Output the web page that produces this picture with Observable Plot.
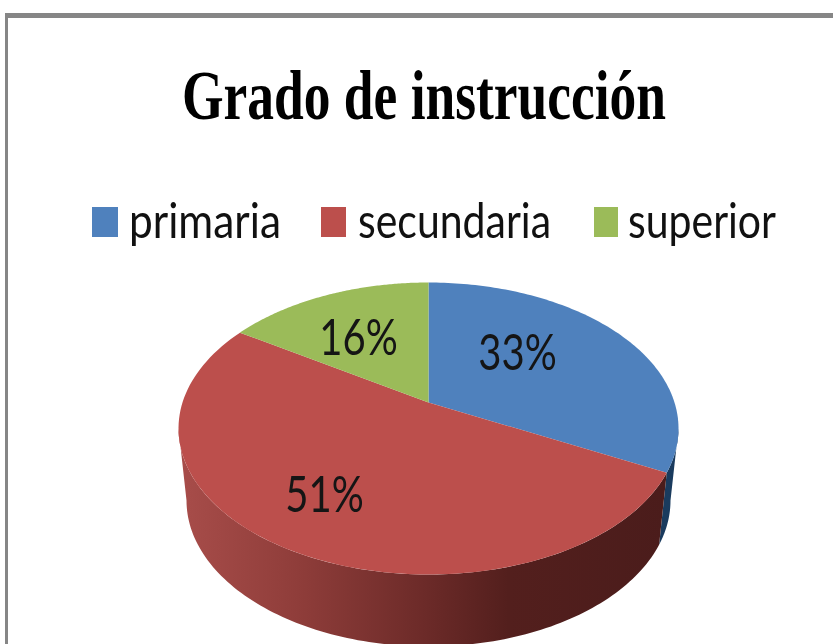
<!DOCTYPE html>
<html>
<head>
<meta charset="utf-8">
<script src="https://cdn.jsdelivr.net/npm/d3@7"></script>
<script src="https://cdn.jsdelivr.net/npm/@observablehq/plot@0.6"></script>
<style>
  html, body { margin: 0; padding: 0; background: #fff; overflow: hidden; width: 833px; height: 644px; }
  #frame { position: absolute; left: 5px; top: 13px; width: 900px; height: 700px; box-sizing: border-box;
           border-top: 5px solid #868686; border-left: 3px solid #868686; }
  #header { position: absolute; left: 0; top: 0; width: 833px; height: 270px; filter: blur(0.6px); }
  .fit { position: absolute; white-space: nowrap; transform-origin: 0 0; line-height: 1; color: #000; }
  #title { font: bold 70px "Liberation Serif", serif; }
  .lab { font: 48px Lato, sans-serif; color: #111; }
  .swatch { position: absolute; top: 207px; height: 30px; }
  #chart { position: absolute; left: 0; top: 270px; filter: blur(0.5px); }
  #chart svg { display: block; }
</style>
</head>
<body>
<div id="frame"></div>
<div id="header"></div>
<div id="chart"></div>
<script>
const chartTitle = "Grado de instrucción";
const categories = ["primaria", "secundaria", "superior"];
const percentages = [33, 51, 16];              // as printed on the slices
const drawnShares = [29.9, 56.5, 13.6];        // visible sweep of each slice in the picture
const colors = ["#4F81BD", "#BC4F4C", "#9BBB59"];
const sideColors = ["#1A3B5E", "url(#sideRed)", "#5f7530"];

// Presentation settings
const labelSpots = [[0.356, 0.507], [-0.416, -0.459], [-0.28, 0.61]];
const lowerRim = {rx: 0.968, cy: -0.493};
const apex = {x: 0, y: 0.178};                 // the perspective moves the meeting point of the slices up

const sum = d3.sum(drawnShares);
const toAngle = s => s / sum * 2 * Math.PI;
let acc = 0;
const slices = categories.map((name, i) => {
  const start = acc; acc += toAngle(drawnShares[i]);
  return {name, start, end: acc, color: colors[i], side: sideColors[i], percent: percentages[i],
          lx: labelSpots[i][0], ly: labelSpots[i][1]};
});

const upper = t => ({x: Math.sin(t), y: Math.cos(t)});
const lower = t => ({x: lowerRim.rx * Math.sin(t), y: lowerRim.cy + Math.cos(t)});
const arc = (a, b, f) => d3.range(0, 121).map(k => f(a + (b - a) * k / 120));

const topPoints = slices.flatMap(s =>
  [apex, ...arc(s.start, s.end, upper), apex].map(p => ({...p, name: s.name, color: s.color})));

// Only the near half of the cylinder wall is visible (angles from 90 to 270 degrees)
const sidePoints = slices.flatMap(s => {
  const a = Math.max(s.start, Math.PI / 2), b = Math.min(s.end, 3 * Math.PI / 2);
  if (a >= b) return [];
  return [...arc(a, b, upper), ...arc(b, a, lower)].map(p => ({...p, name: s.name, color: s.side}));
});

const gradientStops = [[0, "#A84D4A"], [0.24, "#8F3D3A"], [0.5, "#6B2A28"], [0.66, "#531F1D"], [1, "#4A1C1B"]];

const defs = (index, {x}) => {
  const svgNS = "http://www.w3.org/2000/svg";
  const d = document.createElementNS(svgNS, "defs");
  const g = document.createElementNS(svgNS, "linearGradient");
  g.setAttribute("id", "sideRed");
  g.setAttribute("gradientUnits", "userSpaceOnUse");
  g.setAttribute("x1", x(-1)); g.setAttribute("x2", x(1));
  g.setAttribute("y1", 0); g.setAttribute("y2", 0);
  for (const [o, c] of gradientStops) {
    const st = document.createElementNS(svgNS, "stop");
    st.setAttribute("offset", o); st.setAttribute("stop-color", c);
    g.appendChild(st);
  }
  d.appendChild(g);
  return d;
};

const squeeze = k => (index, scales, values, dims, ctx, next) => {
  const g = next(index, scales, values, dims, ctx);
  g.querySelectorAll("text").forEach(t => {
    const own = t.getAttribute("transform") || "";
    const x = t.getAttribute("x"), y = t.getAttribute("y");
    const base = own || `translate(${x || 0},${y || 0})`;
    t.removeAttribute("x"); t.removeAttribute("y");
    t.setAttribute("transform", `${base} scale(${k} 1)`);
  });
  return g;
};

const plot = Plot.plot({
  width: 833, height: 374,
  margin: 0,
  style: {background: "transparent", overflow: "hidden"},
  x: {domain: [-1, 1], range: [178, 678], axis: null},
  y: {domain: [-1, 1], range: [304, 12], axis: null},
  marks: [
    defs,
    Plot.line(sidePoints, {x: "x", y: "y", z: "name", fill: "color", stroke: "none", curve: "linear"}),
    Plot.line(topPoints, {x: "x", y: "y", z: "name", fill: "color", stroke: "none", curve: "linear"}),
    Plot.text(slices, {
      x: "lx", y: "ly", dy: 16, text: d => d.percent + "%", fill: "#151515",
      fontFamily: "Lato, sans-serif", fontSize: 50, textAnchor: "middle", lineAnchor: "middle",
      render: squeeze(0.8)
    })
  ]
});
document.getElementById("chart").appendChild(plot);

// Title and legend sit above the SVG
const header = document.getElementById("header");
function fit(text, cls, left, top, width) {
  const s = document.createElement("span");
  s.className = "fit " + cls; s.id = cls ? "" : "title"; s.textContent = text;
  s.style.left = left + "px"; s.style.top = top + "px";
  header.appendChild(s);
  s.style.transform = `scaleX(${width / s.getBoundingClientRect().width})`;
}
fit(chartTitle, "", 182, 56, 484);

const legendSpots = [{sx: 92, sw: 26, tx: 129, tw: 152}, {sx: 321, sw: 25, tx: 358, tw: 193}, {sx: 594, sw: 24, tx: 628, tw: 148}];
categories.forEach((c, i) => {
  const sq = document.createElement("div");
  sq.className = "swatch";
  sq.style.cssText = `left:${legendSpots[i].sx}px;width:${legendSpots[i].sw}px;background:${colors[i]}`;
  header.appendChild(sq);
  fit(c, "lab", legendSpots[i].tx, 191, legendSpots[i].tw);
});
</script>
</body>
</html>
